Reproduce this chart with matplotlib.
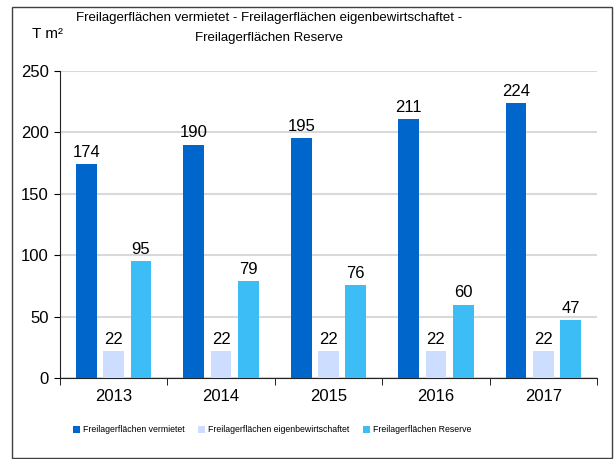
import numpy as np
import matplotlib.pyplot as plt
from matplotlib.patches import Rectangle

plt.rcParams['font.family'] = ['Liberation Sans', 'DejaVu Sans']

jahre = ['2013', '2014', '2015', '2016', '2017']
vermietet = [174, 190, 195, 211, 224]
eigen = [22, 22, 22, 22, 22]
reserve = [95, 79, 76, 60, 47]
serien = ['Freilagerflächen vermietet', 'Freilagerflächen eigenbewirtschaftet',
          'Freilagerflächen Reserve']
farben = ['#0066CC', '#CCDDFF', '#3DBDF5']

fig = plt.figure(figsize=(6.15, 4.59), dpi=100)
ax = fig.add_axes([60/615, 1 - 378.3/459, 537/615, 307.5/459])

x = np.arange(len(jahre))
breite = 0.193
schritt = 0.254
for i, (werte, name, farbe) in enumerate(zip([vermietet, eigen, reserve], serien, farben)):
    bars = ax.bar(x + (i - 1) * schritt, werte, breite, color=farbe, label=name, zorder=3)
    for b, w in zip(bars, werte):
        ax.annotate(str(w), (b.get_x() + b.get_width() / 2, w), xytext=(0, 3),
                    textcoords='offset points', ha='center', va='bottom', fontsize=12)

ax.set_xlim(-0.5, len(jahre) - 0.5)
ax.set_ylim(0, 250)
ax.set_yticks(range(0, 251, 50))
ax.yaxis.grid(True, color='#D9D9D9', linewidth=1.5, zorder=0)
ax.set_axisbelow(True)
for s in ['top', 'right']:
    ax.spines[s].set_visible(False)
ax.spines['left'].set_color('#222222')
ax.spines['bottom'].set_color('#222222')

ax.set_xticks(x)
ax.set_xticklabels(jahre, fontsize=12)
ax.set_xticks(np.arange(-0.5, len(jahre)), minor=True)
ax.tick_params(axis='x', which='major', length=0, pad=8)
ax.tick_params(axis='x', which='minor', length=5, direction='out')
ax.tick_params(axis='y', length=4, labelsize=12, pad=4)

# Titel (zwei Zeilen) und Einheit
fig.text(269/615, 1 - 28/459, 'Freilagerflächen vermietet - Freilagerflächen eigenbewirtschaftet -\nFreilagerflächen Reserve',
         ha='center', va='center', fontsize=9.5, linespacing=1.9)
fig.text(48/615, 1 - 34/459, 'T m²', ha='center', va='center', fontsize=11)

fig.legend(loc='center', bbox_to_anchor=(272/615, 1 - 430/459), ncol=3, frameon=False,
           fontsize=6.3, handlelength=0.8, handleheight=0.8, handletextpad=0.3,
           columnspacing=1.6)

fig.patches.append(Rectangle((12/615, 1 - 458/459), 600/615, 451/459, transform=fig.transFigure,
                             fill=False, edgecolor='#404040', linewidth=1))

fig.savefig('out.png', dpi=100)
